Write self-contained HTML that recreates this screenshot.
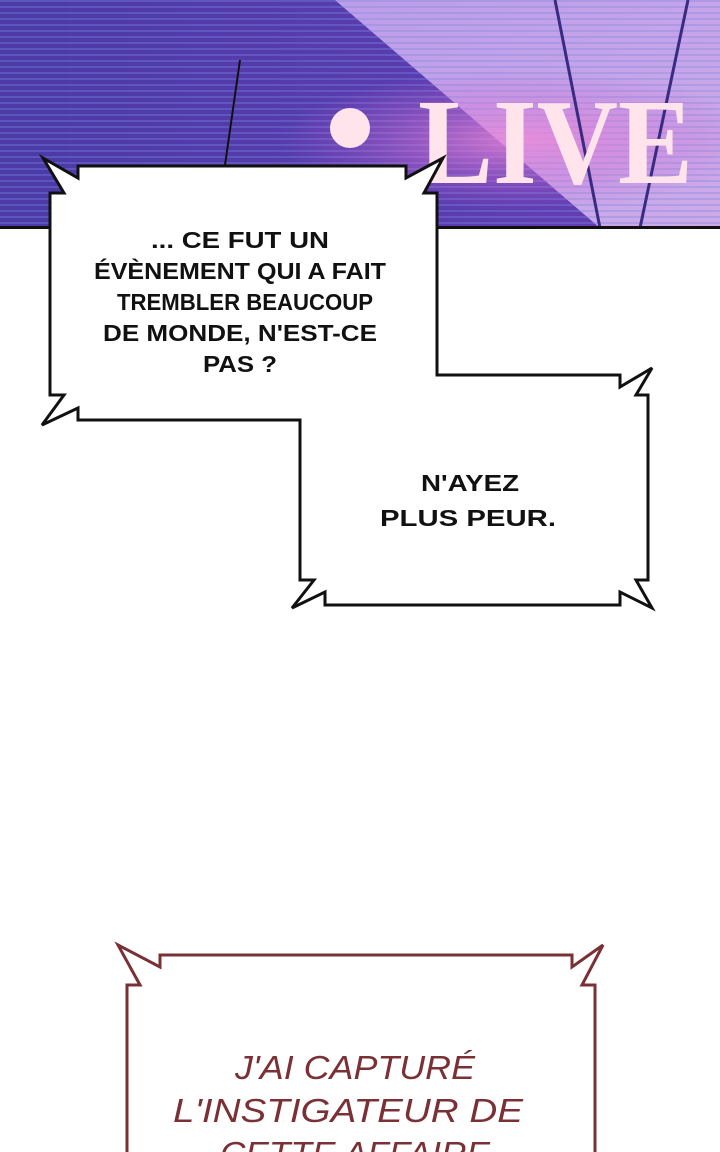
<!DOCTYPE html>
<html><head><meta charset="utf-8"><style>
html,body{margin:0;padding:0;background:#fff;}
svg{display:block}
</style></head><body>
<svg width="720" height="1152" viewBox="0 0 720 1152" xmlns="http://www.w3.org/2000/svg" font-family="Liberation Sans, sans-serif">
<defs>
<linearGradient id="bg" x1="0" y1="0" x2="1" y2="0">
<stop offset="0" stop-color="#4b3aa8"/><stop offset="0.6" stop-color="#5a3cb0"/><stop offset="1" stop-color="#6a3eb8"/>
</linearGradient>
<linearGradient id="lt" x1="0" y1="0" x2="1" y2="1">
<stop offset="0" stop-color="#c8a8f0"/><stop offset="1" stop-color="#d9b6ef"/>
</linearGradient>
<pattern id="lines" width="8" height="6" patternUnits="userSpaceOnUse">
<rect width="8" height="2" fill="#7a8ad8" opacity="0.35"/>
</pattern>
<radialGradient id="glow" cx="0.5" cy="0.5" r="0.5">
<stop offset="0" stop-color="#f08ad8" stop-opacity="0.8"/><stop offset="1" stop-color="#c060d0" stop-opacity="0"/>
</radialGradient>
</defs>
<rect x="0" y="0" width="720" height="228" fill="url(#bg)"/>
<polygon points="335,0 720,0 720,228 600,228" fill="url(#lt)" opacity="0.9"/>
<rect x="0" y="0" width="720" height="228" fill="url(#lines)"/>
<ellipse cx="520" cy="140" rx="240" ry="70" fill="url(#glow)"/>
<line x1="240" y1="60" x2="225" y2="165" stroke="#111" stroke-width="2"/>
<line x1="555" y1="0" x2="600" y2="228" stroke="#3a2a80" stroke-width="3"/>
<line x1="688" y1="0" x2="640" y2="228" stroke="#3a2a80" stroke-width="3"/>
<rect x="0" y="226" width="720" height="3" fill="#111"/>
<circle cx="350" cy="128" r="20" fill="#ffe4ec"/>
<text x="418" y="183" style="font-family:'Liberation Serif',serif;font-weight:bold" font-size="122" fill="#ffe4ec" textLength="275" lengthAdjust="spacingAndGlyphs">LIVE</text>

<path d="M78,166 L78,178 L43,158 L64,193 L50,193 L50,395 L64,395 L42,425 L78,408 L78,420 L300,420 L300,580 L314,580 L292,608 L325,592 L325,605 L620,605 L620,592 L652,608 L636,580 L648,580 L648,395 L636,395 L652,368 L620,387 L620,375 L437,375 L437,193 L424,193 L443,158 L406,178 L406,166 Z" fill="#fff" stroke="#111" stroke-width="3" stroke-linejoin="miter"/>

<g font-size="23" font-weight="bold" fill="#111" text-anchor="middle">
<text x="240" y="248" textLength="178" lengthAdjust="spacingAndGlyphs">... CE FUT UN</text>
<text x="240" y="279" textLength="292" lengthAdjust="spacingAndGlyphs">ÉVÈNEMENT QUI A FAIT</text>
<text x="245" y="310" textLength="256" lengthAdjust="spacingAndGlyphs">TREMBLER BEAUCOUP</text>
<text x="240" y="341" textLength="274" lengthAdjust="spacingAndGlyphs">DE MONDE, N'EST-CE</text>
<text x="240" y="372" textLength="74" lengthAdjust="spacingAndGlyphs">PAS ?</text>
<text x="470" y="491" textLength="98" lengthAdjust="spacingAndGlyphs">N'AYEZ</text>
<text x="468" y="526" textLength="176" lengthAdjust="spacingAndGlyphs">PLUS PEUR.</text>
</g>

<path d="M160,955 L160,967 L118,945 L140,985 L127,985 L127,1160 L595,1160 L595,985 L582,985 L603,945 L572,967 L572,955 Z" fill="#fff" stroke="#7a3035" stroke-width="3"/>
<g font-size="33" font-style="italic" fill="#7a3035" text-anchor="middle">
<text x="355" y="1079" textLength="240" lengthAdjust="spacingAndGlyphs">J'AI CAPTURÉ</text>
<text x="348" y="1122" textLength="350" lengthAdjust="spacingAndGlyphs">L'INSTIGATEUR DE</text>
<text x="355" y="1165" textLength="270" lengthAdjust="spacingAndGlyphs">CETTE AFFAIRE</text>
</g>
</svg>
</body></html>
